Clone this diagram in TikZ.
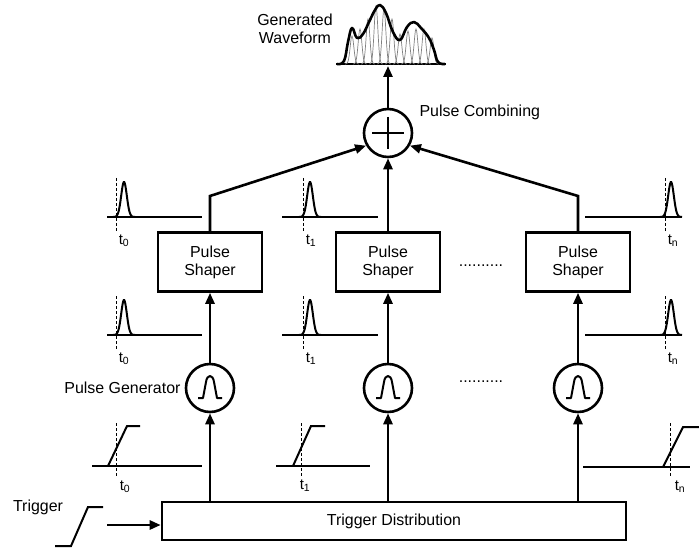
\documentclass[tikz,border=0pt]{standalone}
\usepackage{fontspec}
\setmainfont{Liberation Sans}
\usetikzlibrary{arrows.meta}
\newcommand\gpulse[3]{\draw[thin line] plot[domain=#1-11:#1+11,samples=40,smooth] (\x,{#2-#3*exp(-((\x-#1)/4)^2)});}
\begin{document}
\begin{tikzpicture}[x=1bp,y=-1bp,
  thick line/.style={line width=2.6bp},
  thin line/.style={line width=2bp},
  arr/.style={line width=2.6bp,-{Triangle[length=11bp,width=9bp]}},
  blk/.style={draw,line width=2.6bp,minimum width=104bp,minimum height=59bp,align=center,font=\fontsize{16}{18}\selectfont},
  circ/.style={draw,circle,line width=2.6bp,minimum size=48bp,inner sep=0},
  lbl/.style={font=\fontsize{16}{18}\selectfont},
  sub/.style={font=\fontsize{15}{17}\selectfont},
  dsh/.style={line width=1bp,dashed,dash pattern=on 3bp off 2bp}]
\useasboundingbox (0,0) rectangle (699,550);
% trigger distribution
\node[draw,line width=2.6bp,minimum width=464bp,minimum height=38bp,lbl] (td) at (394,521) {Trigger Distribution};
\node[lbl] (trig) at (38,507) {Trigger};
\draw[thin line] (55,546) -- (71,546) -- (88,507) -- (103,507);
\coordinate (tin) at (107,525);
\draw[arr] (tin) -- (td.west |- tin);
% columns
\foreach \c/\x in {a/210,b/388,c/578}{
  \node[circ] (g\c) at (\x,388) {};
  \draw[thin line,line join=round] (\x-12,398) -- (\x-7,398) -- (\x-4,382) .. controls (\x-3,374) and (\x+3,374) .. (\x+4,382) -- (\x+7,398) -- (\x+12,398);
  \node[blk] (s\c) at (\x,262) {Pulse\\Shaper};
  \draw[arr] (td.north -| g\c) -- (g\c.south);
  \draw[arr] (g\c.north) -- (s\c.south);
}
% combiner
\node[circ] (sum) at (388,133) {};
\draw[thick line] (388,117) -- (388,149) (372,133) -- (404,133);
\node[lbl,anchor=west] (pc) at (416,112) {Pulse Combining};
\coordinate (ka) at (210,196);
\coordinate (kc) at (578,196);
\draw[arr] (sa.north) -- (ka) -- (sum.210);
\draw[arr] (sb.north) -- (sum.south);
\draw[arr] (sc.north) -- (kc) -- (sum.330);
\coordinate (wf) at (388,66);
\draw[arr] (sum.north) -- (wf);
% generated waveform
\node[lbl,align=center] (gw) at (295,29) {Generated\\Waveform};
\draw[thick line] (336,64) -- (446,64);
\foreach \p/\h in {352/28,360/35,368/45,376/58,384/55,392/45,400/30,408/33,416/35,424/35,432/26}{
  \draw[line width=0.7bp,gray] plot[domain=\p-7:\p+7,samples=25,smooth] (\x,{64-\h*exp(-((\x-\p)/2.6)^2)});
}
\draw[line width=2.6bp,line join=round] plot[smooth,tension=0.7] coordinates {(337,64) (344,61) (348,42) (352,28) (357,38) (363,34) (369,22) (375,10) (380,5) (386,13) (393,32) (400,40) (407,27) (414,22) (421,28) (429,38) (434,50) (438,62) (445,64)};
% labels
\node[lbl,anchor=east] (pg) at (184,388) {Pulse Generator};
\node[lbl] (d1) at (481,266) {..........};
\node[lbl] (d2) at (481,382) {..........};
% small plots: pulses
\foreach \px/\bx/\ex/\dx/\lb in {124/107/202/116/0, 310/282/378/303/1, 671/585/680/665/n}{
  \draw[thin line] (\bx,217) -- (\ex,217);
  \gpulse{\px}{217}{35}
  \draw[dsh] (\dx,178) -- (\dx,232);
  \node[sub] at (\dx+8,241) {t\textsubscript{\lb}};
  \draw[thin line] (\bx,335) -- (\ex,335);
  \gpulse{\px}{335}{35}
  \draw[dsh] (\dx,296) -- (\dx,350);
  \node[sub] at (\dx+8,359) {t\textsubscript{\lb}};
}
% small plots: steps
\draw[thin line] (92,466) -- (202,466);
\draw[thin line] (108,466) -- (127,426) -- (140,426);
\draw[dsh] (116,423) -- (116,476);
\node[sub] at (125,487) {t\textsubscript{0}};
\draw[thin line] (276,466) -- (370,466);
\draw[thin line] (293,466) -- (311,426) -- (325,426);
\draw[dsh] (301,423) -- (301,476);
\node[sub] at (305,486) {t\textsubscript{1}};
\draw[thin line] (583,467) -- (690,467);
\draw[thin line] (663,467) -- (683,427) -- (699,427);
\draw[dsh] (670,423) -- (670,478);
\node[sub] at (680,487) {t\textsubscript{n}};
\end{tikzpicture}
\end{document}
